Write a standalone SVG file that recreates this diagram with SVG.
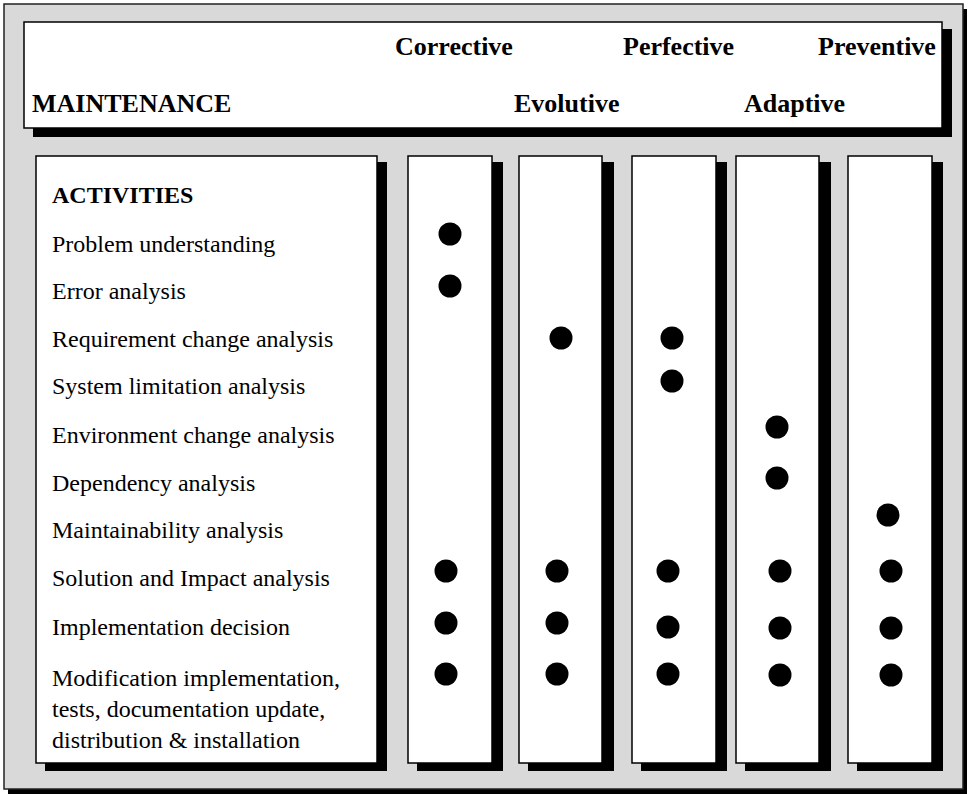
<svg xmlns="http://www.w3.org/2000/svg" width="968" height="794" viewBox="0 0 968 794">
  <style>
    .shadow { fill: #000; }
    .panel { fill: #fff; stroke: #000; stroke-width: 1.5; }
    .frame { fill: #d9d9d9; stroke: #222; stroke-width: 1.5; }
    .head { font-family: "Liberation Serif", "Times New Roman", serif; font-weight: bold; font-size: 26px; fill: #000; }
    .title { font-family: "Liberation Serif", "Times New Roman", serif; font-weight: bold; font-size: 24px; fill: #000; }
    .item { font-family: "Liberation Serif", "Times New Roman", serif; font-size: 24px; fill: #000; }
    .dot { fill: #000; }
  </style>

  <!-- outer frame -->
  <g id="frame">
    <rect class="shadow" x="8" y="9" width="959" height="785"/>
    <rect class="frame" x="4" y="4" width="959" height="785"/>
  </g>

  <!-- header band with the maintenance types -->
  <g id="header">
    <rect class="shadow" x="33" y="29" width="919" height="108"/>
    <rect class="panel" x="24" y="22" width="918" height="106"/>
    <text class="head" x="395" y="55">Corrective</text>
    <text class="head" x="623" y="55">Perfective</text>
    <text class="head" x="818" y="55">Preventive</text>
    <text class="head" x="32" y="112">MAINTENANCE</text>
    <text class="head" x="514" y="112">Evolutive</text>
    <text class="head" x="744" y="112">Adaptive</text>
  </g>

  <!-- activity list -->
  <g id="activities">
    <rect class="shadow" x="45" y="162" width="342" height="609"/>
    <rect class="panel" x="36" y="156" width="341" height="607"/>
    <text class="title" x="52" y="203">ACTIVITIES</text>
    <text class="item" x="52" y="252">Problem understanding</text>
    <text class="item" x="52" y="299">Error analysis</text>
    <text class="item" x="52" y="347">Requirement change analysis</text>
    <text class="item" x="52" y="394">System limitation analysis</text>
    <text class="item" x="52" y="443">Environment change analysis</text>
    <text class="item" x="52" y="491">Dependency analysis</text>
    <text class="item" x="52" y="538">Maintainability analysis</text>
    <text class="item" x="52" y="586">Solution and Impact analysis</text>
    <text class="item" x="52" y="635">Implementation decision</text>
    <text class="item" x="52" y="686">Modification implementation,</text>
    <text class="item" x="52" y="717">tests, documentation update,</text>
    <text class="item" x="52" y="748">distribution &amp; installation</text>
  </g>

  <!-- one column per maintenance type -->
  <g id="col-corrective">
    <rect class="shadow" x="417" y="162" width="86" height="609"/>
    <rect class="panel" x="408" y="156" width="84" height="607"/>
    <circle class="dot" cx="450" cy="234" r="11.5"/>
    <circle class="dot" cx="450" cy="286" r="11.5"/>
    <circle class="dot" cx="446" cy="571" r="11.5"/>
    <circle class="dot" cx="446" cy="623" r="11.5"/>
    <circle class="dot" cx="446" cy="674" r="11.5"/>
  </g>

  <g id="col-evolutive">
    <rect class="shadow" x="528" y="162" width="86" height="609"/>
    <rect class="panel" x="519" y="156" width="83" height="607"/>
    <circle class="dot" cx="561" cy="338" r="11.5"/>
    <circle class="dot" cx="557" cy="571" r="11.5"/>
    <circle class="dot" cx="557" cy="623" r="11.5"/>
    <circle class="dot" cx="557" cy="674" r="11.5"/>
  </g>

  <g id="col-perfective">
    <rect class="shadow" x="641" y="162" width="86" height="609"/>
    <rect class="panel" x="632" y="156" width="84" height="607"/>
    <circle class="dot" cx="672" cy="338" r="11.5"/>
    <circle class="dot" cx="672" cy="381" r="11.5"/>
    <circle class="dot" cx="668" cy="571" r="11.5"/>
    <circle class="dot" cx="668" cy="627" r="11.5"/>
    <circle class="dot" cx="668" cy="674" r="11.5"/>
  </g>

  <g id="col-adaptive">
    <rect class="shadow" x="745" y="162" width="86" height="609"/>
    <rect class="panel" x="736" y="156" width="83" height="607"/>
    <circle class="dot" cx="777" cy="427" r="11.5"/>
    <circle class="dot" cx="777" cy="478" r="11.5"/>
    <circle class="dot" cx="780" cy="571" r="11.5"/>
    <circle class="dot" cx="780" cy="628" r="11.5"/>
    <circle class="dot" cx="780" cy="675" r="11.5"/>
  </g>

  <g id="col-preventive">
    <rect class="shadow" x="857" y="162" width="86" height="609"/>
    <rect class="panel" x="848" y="156" width="84" height="607"/>
    <circle class="dot" cx="888" cy="515" r="11.5"/>
    <circle class="dot" cx="891" cy="571" r="11.5"/>
    <circle class="dot" cx="891" cy="628" r="11.5"/>
    <circle class="dot" cx="891" cy="675" r="11.5"/>
  </g>

  <g id="connectors"/>
</svg>
